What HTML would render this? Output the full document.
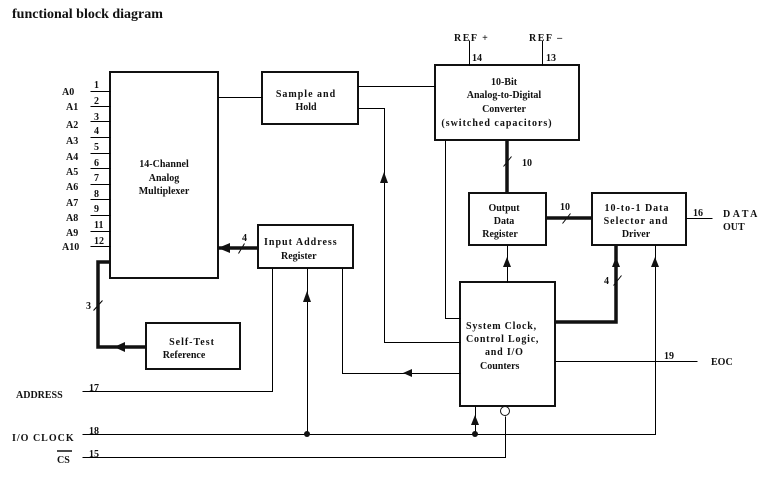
<!DOCTYPE html>
<html><head><meta charset="utf-8"><style>
html,body{margin:0;padding:0;background:#fff;}
svg{display:block;}
text{font-family:"Liberation Serif",serif;font-size:10px;fill:#111;}
.b{font-weight:bold;}
</style></head><body>
<svg width="774" height="487" viewBox="0 0 774 487" xmlns="http://www.w3.org/2000/svg">
<text x="12" y="18" class="b" style="font-size:14px">functional block diagram</text>
<g fill="none" stroke="#111" stroke-width="2">
<rect x="110" y="72" width="108" height="206"/>
<rect x="262" y="72" width="96" height="52"/>
<rect x="435" y="65" width="144" height="75"/>
<rect x="258" y="225" width="95" height="43"/>
<rect x="146" y="323" width="94" height="46"/>
<rect x="469" y="193" width="77" height="52"/>
<rect x="592" y="193" width="94" height="52"/>
<rect x="460" y="282" width="95" height="124"/>
</g>
<g fill="none" stroke="#000" stroke-width="1" transform="translate(0.5,0.5)">
<path d="M90 91H110M90 106H110M90 121H110M90 137H110M90 153H110M90 168H110M90 184H110M90 199H110M90 215H110M90 231H110M90 246H110"/>
<path d="M218 97H262M358 86H435M358 108H384V342H460M445 140V318H460"/>
<path d="M469 40V65M542 40V65"/>
<path d="M686 218H712M555 361H697"/>
<path d="M82 391H272V268M307 268V434M342 268V373H460"/>
<path d="M82 434H655V245M475 434V406M507 282V245"/>
<path d="M82 457H505V416"/>
<path d="M238 253L244 243M93 310L102 300M503 166L511 156M562 223L570 213M613 285L621 275"/>
</g>
<circle cx="505" cy="411" r="4.5" fill="#fff" stroke="#111" stroke-width="1"/>
<g fill="none" stroke="#111" stroke-width="3.5">
<path d="M218 248H258"/>
<path d="M110 262H98V347H146"/>
<path d="M507 140V193M546 218H592M555 322H616V245"/>
</g>
<g fill="#111">
<path d="M218 248L230 243V253Z"/>
<path d="M114 347L125 342V352Z"/>
<path d="M384 172L380 183H388Z"/>
<path d="M403 373L412 369V377Z"/>
<path d="M307 291L303 302H311Z"/>
<path d="M507 257L503 267H511Z"/>
<path d="M616 257L612 267H620Z"/>
<path d="M655 257L651 267H659Z"/>
<path d="M475 415L471 425H479Z"/>
<circle cx="307" cy="434" r="3"/><circle cx="475" cy="434" r="3"/>
</g>
<g class="b">
<text x="62" y="95">A0</text><text x="66" y="110">A1</text><text x="66" y="128">A2</text><text x="66" y="144">A3</text>
<text x="66" y="160">A4</text><text x="66" y="175">A5</text><text x="66" y="190">A6</text><text x="66" y="206">A7</text>
<text x="66" y="221">A8</text><text x="66" y="236">A9</text><text x="62" y="250">A10</text>
<text x="94" y="88">1</text><text x="94" y="104">2</text><text x="94" y="120">3</text><text x="94" y="134">4</text>
<text x="94" y="150">5</text><text x="94" y="166">6</text><text x="94" y="181">7</text><text x="94" y="197">8</text>
<text x="94" y="212">9</text><text x="94" y="228">11</text><text x="94" y="244">12</text>
<text x="164" y="167" text-anchor="middle">14-Channel</text><text x="164" y="181" text-anchor="middle">Analog</text><text x="164" y="194" text-anchor="middle">Multiplexer</text>
<text x="306" y="97" text-anchor="middle" letter-spacing="1">Sample and</text><text x="306" y="110" text-anchor="middle">Hold</text>
<text x="454" y="41" letter-spacing="1.5">REF +</text><text x="529" y="41" letter-spacing="1.5">REF –</text>
<text x="472" y="61">14</text><text x="546" y="61">13</text>
<text x="504" y="85" text-anchor="middle">10-Bit</text><text x="504" y="98" text-anchor="middle">Analog-to-Digital</text>
<text x="504" y="112" text-anchor="middle">Converter</text><text x="497" y="126" text-anchor="middle" letter-spacing="1">(switched capacitors)</text>
<text x="522" y="166">10</text><text x="560" y="210">10</text>
<text x="504" y="211" text-anchor="middle">Output</text><text x="504" y="224" text-anchor="middle">Data</text><text x="500" y="237" text-anchor="middle">Register</text>
<text x="637" y="211" text-anchor="middle" letter-spacing="1">10-to-1 Data</text><text x="636" y="224" text-anchor="middle" letter-spacing="1">Selector and</text><text x="636" y="237" text-anchor="middle">Driver</text>
<text x="693" y="216">16</text><text x="723" y="217" letter-spacing="2.5">DATA</text><text x="723" y="230">OUT</text>
<text x="264" y="245" letter-spacing="1">Input Address</text><text x="281" y="259">Register</text>
<text x="242" y="241">4</text><text x="86" y="309">3</text><text x="604" y="284">4</text>
<text x="192" y="345" text-anchor="middle" letter-spacing="1">Self-Test</text><text x="184" y="358" text-anchor="middle">Reference</text>
<text x="466" y="329" letter-spacing="0.8">System Clock,</text><text x="466" y="342" letter-spacing="0.8">Control Logic,</text>
<text x="485" y="355" letter-spacing="0.8">and I/O</text><text x="480" y="369">Counters</text>
<text x="664" y="359">19</text><text x="711" y="365">EOC</text>
<text x="16" y="398">ADDRESS</text><text x="89" y="391">17</text>
<text x="12" y="441" letter-spacing="1">I/O CLOCK</text><text x="89" y="434">18</text>
<text x="57" y="463">CS</text><text x="89" y="457">15</text>
</g>
<path d="M57 451H72" stroke="#111" stroke-width="1.5"/>
</svg>
</body></html>
